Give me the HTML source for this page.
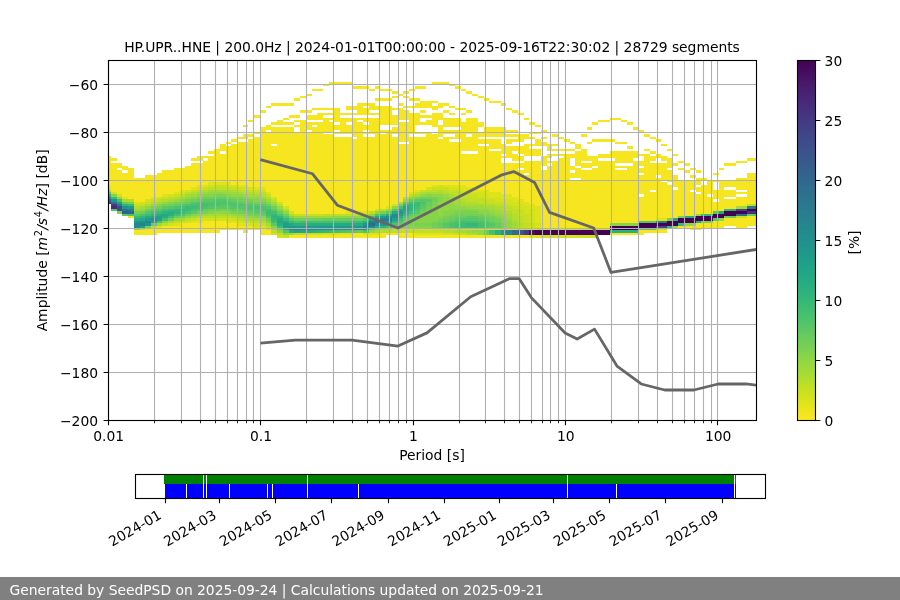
<!DOCTYPE html>
<html lang="en"><head><meta charset="utf-8"><title>PPSD HP.UPR..HNE</title><style>html,body{margin:0;padding:0;background:#fff;overflow:hidden}body{width:900px;height:600px}</style></head><body>
<svg width="900" height="600" viewBox="0 0 900 600" style="display:block;font-family:'DejaVu Sans','Liberation Sans',sans-serif;font-size:13.889px">
<defs><clipPath id="axc"><rect x="108" y="60" width="648" height="360"/></clipPath>
<linearGradient id="cbg" x1="0" y1="0" x2="0" y2="1"><stop offset="0.0000" stop-color="#440154"/><stop offset="0.0333" stop-color="#470d60"/><stop offset="0.0667" stop-color="#481a6c"/><stop offset="0.1000" stop-color="#482475"/><stop offset="0.1333" stop-color="#472f7d"/><stop offset="0.1667" stop-color="#443983"/><stop offset="0.2000" stop-color="#414487"/><stop offset="0.2333" stop-color="#3d4d8a"/><stop offset="0.2667" stop-color="#39568c"/><stop offset="0.3000" stop-color="#355f8d"/><stop offset="0.3333" stop-color="#31688e"/><stop offset="0.3667" stop-color="#2d708e"/><stop offset="0.4000" stop-color="#2a788e"/><stop offset="0.4333" stop-color="#27808e"/><stop offset="0.4667" stop-color="#23888e"/><stop offset="0.5000" stop-color="#21908d"/><stop offset="0.5333" stop-color="#1f988b"/><stop offset="0.5667" stop-color="#1fa188"/><stop offset="0.6000" stop-color="#22a884"/><stop offset="0.6333" stop-color="#2ab07f"/><stop offset="0.6667" stop-color="#35b779"/><stop offset="0.7000" stop-color="#44bf70"/><stop offset="0.7333" stop-color="#54c568"/><stop offset="0.7667" stop-color="#67cc5c"/><stop offset="0.8000" stop-color="#7ad151"/><stop offset="0.8333" stop-color="#90d743"/><stop offset="0.8667" stop-color="#a5db36"/><stop offset="0.9000" stop-color="#bddf26"/><stop offset="0.9333" stop-color="#d2e21b"/><stop offset="0.9667" stop-color="#eae51a"/><stop offset="1.0000" stop-color="#fde725"/></linearGradient></defs>
<rect x="0" y="0" width="900" height="600" fill="#fff"/>
<g clip-path="url(#axc)" shape-rendering="crispEdges"><path fill="#443983" d="M105 202H111V204H105ZM111 204H117V206H111ZM524 230H529V235H524Z"/><path fill="#375b8d" d="M105 199H111V202H105Z"/><path fill="#25848e" d="M105 197H111V199H105ZM380 221H386V223H380ZM506 230H512V233H506Z"/><path fill="#25ac82" d="M105 194H111V197H105ZM134 218H140V221H134ZM145 216H151V218H145ZM157 214H162V216H157ZM162 216H168V218H162ZM277 218H283V221H277ZM283 228H289V230H283ZM283 221H289V223H283ZM289 230H294V233H289ZM306 230H312V233H306ZM312 223H317V226H312ZM317 223H323V226H317ZM323 223H329V226H323ZM329 223H334V226H329ZM334 223H340V226H334ZM340 223H346V226H340ZM346 223H352V226H346ZM352 223H357V226H352ZM357 223H363V226H357ZM375 226H380V228H375ZM386 223H392V226H386ZM386 214H392V216H386ZM392 211H398V214H392Z"/><path fill="#5cc863" d="M105 192H111V194H105ZM122 214H128V216H122ZM134 214H140V216H134ZM151 209H157V211H151ZM162 206H168V209H162ZM191 211H197V214H191ZM203 199H208V202H203ZM208 199H214V202H208ZM214 206H220V209H214ZM220 206H226V209H220ZM226 206H231V209H226ZM226 199H231V202H226ZM237 202H243V204H237ZM243 209H248V211H243ZM254 211H260V214H254ZM254 204H260V206H254ZM260 211H266V214H260ZM260 204H266V206H260ZM271 223H277V226H271ZM271 209H277V211H271ZM289 218H294V221H289ZM352 230H357V233H352ZM369 228H375V230H369ZM386 211H392V214H386ZM403 202H409V204H403ZM409 214H415V216H409ZM415 211H420V214H415ZM415 199H420V202H415ZM420 206H426V209H420ZM426 199H432V202H426ZM443 226H449V228H443ZM455 218H461V221H455ZM466 216H472V218H466ZM472 216H478V218H472ZM478 218H484V221H478ZM489 226H495V228H489ZM753 214H759V216H753Z"/><path fill="#a5db36" d="M105 190H111V192H105ZM122 199H128V202H122ZM140 206H145V209H140ZM157 202H162V204H157ZM168 221H174V223H168ZM168 199H174V202H168ZM180 218H185V221H180ZM180 197H185V199H180ZM185 194H191V197H185ZM191 216H197V218H191ZM197 192H203V194H197ZM208 214H214V216H208ZM208 190H214V192H208ZM214 214H220V216H214ZM214 190H220V192H214ZM220 214H226V216H220ZM220 190H226V192H220ZM226 214H231V216H226ZM226 190H231V192H226ZM237 216H243V218H237ZM237 192H243V194H237ZM248 218H254V221H248ZM248 194H254V197H248ZM254 218H260V221H254ZM254 194H260V197H254ZM266 223H271V226H266ZM271 228H277V230H271ZM271 202H277V204H271ZM375 230H380V233H375ZM380 228H386V230H380ZM415 194H420V197H415ZM426 192H432V194H426ZM432 192H438V194H432ZM438 192H443V194H438ZM455 230H461V233H455ZM455 199H461V204H455ZM461 230H466V233H461ZM461 202H466V206H461ZM466 204H472V206H466ZM472 233H478V235H472ZM472 204H478V206H472ZM478 204H484V206H478ZM484 206H489V209H484ZM489 206H495V209H489ZM495 209H501V211H495ZM501 211H506V214H501ZM506 214H512V218H506ZM512 226H518V228H512ZM512 221H518V223H512ZM736 206H742V209H736Z"/><path fill="#dfe318" d="M105 187H111V190H105ZM122 197H128V199H122ZM134 202H140V204H134ZM151 197H157V199H151ZM157 226H162V228H157ZM162 194H168V197H162ZM174 223H180V226H174ZM174 192H180V194H174ZM180 190H185V192H180ZM191 221H197V223H191ZM191 187H197V190H191ZM197 221H203V223H197ZM197 185H203V187H197ZM203 185H208V187H203ZM208 182H214V185H208ZM214 182H220V185H214ZM220 182H226V185H220ZM226 221H231V223H226ZM226 182H231V185H226ZM231 221H237V223H231ZM237 223H243V226H237ZM237 185H243V187H237ZM243 223H248V226H243ZM243 185H248V187H243ZM254 226H260V228H254ZM254 187H260V190H254ZM260 226H266V228H260ZM260 187H266V190H260ZM266 192H271V194H266ZM334 233H340V235H334ZM340 233H346V235H340ZM346 233H352V235H346ZM346 211H352V214H346ZM352 211H357V214H352ZM357 211H363V214H357ZM363 233H369V235H363ZM363 211H369V214H363ZM369 233H375V235H369ZM375 233H380V235H375ZM386 206H392V209H386ZM409 192H415V194H409ZM415 233H420V235H415ZM415 190H420V192H415ZM420 233H426V235H420ZM426 233H432V235H426ZM432 233H438V235H432ZM432 185H438V187H432ZM438 233H443V235H438ZM443 185H449V187H443ZM449 185H455V187H449ZM455 185H461V187H455ZM461 185H466V190H461ZM466 187H472V190H466ZM472 187H478V192H472ZM478 190H484V192H478ZM484 190H489V194H484ZM489 192H495V197H489ZM495 192H501V197H495ZM501 194H506V199H501ZM506 194H512V199H506ZM512 197H518V202H512ZM518 199H524V204H518ZM524 202H529V206H524ZM529 235H535V238H529ZM529 204H535V209H529ZM535 235H541V238H535ZM535 226H541V228H535ZM535 206H541V223H535ZM656 218H661V221H656ZM661 218H667V221H661Z"/><path fill="#f6e620" d="M105 156H111V187H105ZM111 163H117V192H111ZM111 158H117V161H111ZM117 170H122V194H117ZM117 163H122V168H117ZM122 173H128V197H122ZM122 166H128V170H122ZM128 216H134V218H128ZM128 168H134V199H128ZM134 230H140V235H134ZM134 178H140V202H134ZM140 230H145V235H140ZM140 178H145V202H140ZM145 228H151V235H145ZM145 175H151V199H145ZM151 228H157V235H151ZM151 175H157V197H151ZM157 228H162V233H157ZM157 173H162V197H157ZM162 226H168V233H162ZM162 170H168V194H162ZM168 226H174V233H168ZM168 170H174V194H168ZM174 226H180V233H174ZM174 168H180V192H174ZM180 223H185V233H180ZM180 168H185V190H180ZM185 223H191V233H185ZM185 166H191V190H185ZM191 223H197V233H191ZM191 163H197V187H191ZM191 158H197V161H191ZM197 223H203V233H197ZM197 163H203V185H197ZM197 156H203V161H197ZM203 221H208V233H203ZM203 161H208V185H203ZM203 156H208V158H203ZM208 221H214V233H208ZM208 156H214V182H208ZM208 151H214V154H208ZM214 221H220V233H214ZM214 149H220V182H214ZM220 221H226V230H220ZM220 154H226V182H220ZM220 144H226V151H220ZM226 223H231V230H226ZM226 146H231V182H226ZM226 142H231V144H226ZM231 223H237V230H231ZM231 144H237V185H231ZM231 139H237V142H231ZM237 226H243V230H237ZM237 142H243V185H237ZM237 137H243V139H237ZM243 226H248V233H243ZM243 142H248V185H243ZM243 134H248V139H243ZM243 125H248V127H243ZM248 226H254V230H248ZM248 139H254V187H248ZM248 134H254V137H248ZM248 120H254V122H248ZM254 228H260V230H254ZM254 137H260V187H254ZM254 132H260V134H254ZM254 115H260V118H254ZM260 228H266V235H260ZM260 127H266V187H260ZM260 110H266V113H260ZM266 230H271V235H266ZM266 132H271V192H266ZM266 125H271V130H266ZM266 106H271V108H266ZM271 146H277V197H271ZM271 127H277V144H271ZM271 122H277V125H271ZM271 103H277V106H271ZM277 127H283V202H277ZM277 120H283V125H277ZM277 103H283V106H277ZM283 127H289V206H283ZM283 122H289V125H283ZM283 118H289V120H283ZM283 103H289V106H283ZM289 235H294V238H289ZM289 127H294V211H289ZM289 122H294V125H289ZM289 115H294V118H289ZM289 103H294V106H289ZM294 235H300V238H294ZM294 132H300V214H294ZM294 125H300V127H294ZM294 120H300V122H294ZM294 115H300V118H294ZM294 98H300V101H294ZM300 235H306V238H300ZM300 120H306V214H300ZM300 110H306V113H300ZM300 96H306V98H300ZM306 235H312V238H306ZM306 132H312V214H306ZM306 122H312V130H306ZM306 115H312V120H306ZM306 110H312V113H306ZM306 94H312V96H306ZM312 235H317V238H312ZM312 127H317V214H312ZM312 122H317V125H312ZM312 115H317V120H312ZM312 108H317V110H312ZM312 89H317V91H312ZM317 235H323V238H317ZM317 122H323V214H317ZM317 113H323V120H317ZM317 108H323V110H317ZM317 89H323V91H317ZM323 235H329V238H323ZM323 134H329V214H323ZM323 118H329V132H323ZM323 113H329V115H323ZM323 108H329V110H323ZM323 84H329V86H323ZM329 235H334V238H329ZM329 134H334V214H329ZM329 122H334V132H329ZM329 118H334V120H329ZM329 113H334V115H329ZM329 108H334V110H329ZM329 82H334V84H329ZM334 235H340V238H334ZM334 137H340V214H334ZM334 132H340V134H334ZM334 125H340V130H334ZM334 108H340V122H334ZM334 82H340V84H334ZM340 235H346V238H340ZM340 137H346V214H340ZM340 118H346V134H340ZM340 113H346V115H340ZM340 82H346V84H340ZM346 235H352V238H346ZM346 137H352V211H346ZM346 125H352V134H346ZM346 118H352V122H346ZM346 113H352V115H346ZM346 106H352V110H346ZM346 82H352V84H346ZM352 233H357V238H352ZM352 139H357V211H352ZM352 118H357V137H352ZM352 113H357V115H352ZM352 106H357V110H352ZM352 86H357V89H352ZM357 233H363V238H357ZM357 122H363V211H357ZM357 118H363V120H357ZM357 103H363V115H357ZM357 86H363V89H357ZM363 235H369V238H363ZM363 137H369V211H363ZM363 132H369V134H363ZM363 125H369V130H363ZM363 118H369V122H363ZM363 108H369V115H363ZM363 103H369V106H363ZM363 86H369V89H363ZM369 235H375V238H369ZM369 137H375V211H369ZM369 118H375V134H369ZM369 113H375V115H369ZM369 103H375V110H369ZM369 89H375V91H369ZM375 235H380V238H375ZM375 118H380V209H375ZM375 113H380V115H375ZM375 106H380V110H375ZM375 98H380V101H375ZM375 86H380V89H375ZM380 233H386V238H380ZM380 134H386V209H380ZM380 130H386V132H380ZM380 106H386V125H380ZM380 98H386V101H380ZM380 89H386V91H380ZM386 233H392V235H386ZM386 130H392V206H386ZM386 106H392V125H386ZM386 98H392V101H386ZM386 89H392V91H386ZM392 233H398V235H392ZM392 137H398V204H392ZM392 127H398V134H392ZM392 115H398V125H392ZM392 108H398V110H392ZM392 96H398V98H392ZM392 91H398V94H392ZM398 233H403V238H398ZM398 144H403V202H398ZM398 122H403V142H398ZM398 108H403V120H398ZM398 103H403V106H398ZM398 94H403V96H398ZM403 233H409V238H403ZM403 144H409V197H403ZM403 122H409V142H403ZM403 110H409V120H403ZM403 106H409V108H403ZM403 96H409V98H403ZM403 91H409V94H403ZM409 233H415V238H409ZM409 137H415V192H409ZM409 113H415V134H409ZM409 106H415V108H409ZM409 98H415V101H409ZM409 89H415V91H409ZM415 235H420V238H415ZM415 137H420V190H415ZM415 132H420V134H415ZM415 113H420V125H415ZM415 103H420V108H415ZM415 98H420V101H415ZM415 86H420V89H415ZM420 235H426V238H420ZM420 137H426V190H420ZM420 132H426V134H420ZM420 122H426V125H420ZM420 115H426V118H420ZM420 110H426V113H420ZM420 101H426V108H420ZM420 86H426V89H420ZM426 235H432V238H426ZM426 132H432V187H426ZM426 120H432V125H426ZM426 115H432V118H426ZM426 101H432V108H426ZM432 235H438V238H432ZM432 134H438V185H432ZM432 113H438V127H432ZM432 106H438V110H432ZM432 101H438V103H432ZM432 82H438V84H432ZM438 235H443V238H438ZM438 139H443V185H438ZM438 125H443V137H438ZM438 113H443V120H438ZM438 103H443V108H438ZM438 82H443V84H438ZM443 235H449V238H443ZM443 137H449V185H443ZM443 130H449V134H443ZM443 118H449V127H443ZM443 110H449V113H443ZM443 103H449V106H443ZM443 82H449V84H443ZM449 235H455V238H449ZM449 142H455V185H449ZM449 137H455V139H449ZM449 130H455V134H449ZM449 118H455V127H449ZM449 113H455V115H449ZM449 106H455V108H449ZM449 84H455V86H449ZM455 235H461V238H455ZM455 142H461V185H455ZM455 130H461V139H455ZM455 118H461V127H455ZM455 108H461V110H455ZM455 86H461V89H455ZM461 235H466V238H461ZM461 154H466V185H461ZM461 122H466V151H461ZM461 113H466V115H461ZM461 108H466V110H461ZM461 89H466V91H461ZM466 235H472V238H466ZM466 154H472V187H466ZM466 137H472V151H466ZM466 118H472V134H466ZM466 110H472V113H466ZM466 91H472V94H466ZM472 235H478V238H472ZM472 154H478V187H472ZM472 118H478V151H472ZM472 94H478V96H472ZM478 235H484V238H478ZM478 146H484V190H478ZM478 139H484V144H478ZM478 132H484V137H478ZM478 122H484V127H478ZM478 96H484V98H478ZM484 235H489V238H484ZM484 146H489V190H484ZM484 139H489V144H484ZM484 127H489V137H484ZM484 98H489V101H484ZM489 235H495V238H489ZM489 151H495V192H489ZM489 139H495V149H489ZM489 127H495V137H489ZM489 101H495V103H489ZM495 235H501V238H495ZM495 151H501V192H495ZM495 139H501V149H495ZM495 127H501V137H495ZM495 101H501V103H495ZM501 235H506V238H501ZM501 163H506V194H501ZM501 156H506V158H501ZM501 144H506V154H501ZM501 127H506V137H501ZM501 103H506V106H501ZM506 235H512V238H506ZM506 163H512V194H506ZM506 146H512V158H506ZM506 139H512V144H506ZM506 134H512V137H506ZM506 130H512V132H506ZM506 108H512V110H506ZM512 235H518V238H512ZM512 163H518V197H512ZM512 154H518V161H512ZM512 146H518V151H512ZM512 139H518V142H512ZM512 134H518V137H512ZM512 130H518V132H512ZM512 110H518V113H512ZM518 235H524V238H518ZM518 170H524V199H518ZM518 163H524V168H518ZM518 156H524V161H518ZM518 146H524V154H518ZM518 134H524V142H518ZM518 113H524V115H518ZM524 235H529V238H524ZM524 175H529V202H524ZM524 161H529V173H524ZM524 144H529V156H524ZM524 134H529V139H524ZM524 118H529V120H524ZM529 161H535V204H529ZM529 149H535V156H529ZM529 144H535V146H529ZM529 137H535V139H529ZM529 132H535V134H529ZM529 122H535V125H529ZM535 161H541V206H535ZM535 149H541V156H535ZM535 139H541V146H535ZM535 132H541V134H535ZM535 125H541V127H535ZM541 170H547V228H541ZM541 156H547V166H541ZM541 142H547V146H541ZM541 137H547V139H541ZM541 130H547V132H541ZM547 166H552V228H547ZM547 161H552V163H547ZM547 154H552V158H547ZM547 144H552V151H547ZM552 161H558V228H552ZM552 154H558V156H552ZM552 149H558V151H552ZM552 144H558V146H552ZM552 134H558V137H552ZM558 158H564V228H558ZM558 154H564V156H558ZM558 149H564V151H558ZM558 137H564V139H558ZM564 154H570V228H564ZM564 149H570V151H564ZM564 139H570V142H564ZM570 180H575V228H570ZM570 173H575V178H570ZM570 166H575V170H570ZM570 154H575V158H570ZM570 149H575V151H570ZM570 142H575V144H570ZM575 180H581V228H575ZM575 168H581V178H575ZM575 151H581V166H575ZM575 144H581V149H575ZM581 170H587V228H581ZM581 163H587V168H581ZM581 149H587V161H581ZM581 134H587V137H581ZM587 170H592V228H587ZM587 163H592V168H587ZM587 156H592V161H587ZM587 142H592V144H587ZM587 127H592V130H587ZM592 168H598V228H592ZM592 156H598V166H592ZM592 139H598V142H592ZM592 122H598V125H592ZM598 161H604V228H598ZM598 154H604V158H598ZM598 139H604V142H598ZM598 120H604V122H598ZM604 161H610V228H604ZM604 154H610V158H604ZM604 139H610V142H604ZM604 120H610V122H604ZM610 233H615V235H610ZM610 161H615V223H610ZM610 151H615V158H610ZM610 139H615V142H610ZM610 118H615V120H610ZM615 233H621V235H615ZM615 170H621V223H615ZM615 166H621V168H615ZM615 151H621V163H615ZM615 142H621V144H615ZM615 118H621V120H615ZM621 233H627V235H621ZM621 170H627V223H621ZM621 166H627V168H621ZM621 151H627V163H621ZM621 142H627V144H621ZM621 120H627V122H621ZM627 233H633V235H627ZM627 166H633V223H627ZM627 151H633V163H627ZM627 146H633V149H627ZM627 122H633V125H627ZM633 233H638V235H633ZM633 161H638V223H633ZM633 151H638V158H633ZM633 127H638V130H633ZM638 230H644V235H638ZM638 197H644V221H638ZM638 175H644V194H638ZM638 168H644V173H638ZM638 161H644V166H638ZM638 154H644V156H638ZM638 130H644V132H638ZM644 230H650V233H644ZM644 154H650V221H644ZM644 149H650V151H644ZM644 134H650V137H644ZM650 230H656V233H650ZM650 192H656V221H650ZM650 163H656V190H650ZM650 156H656V161H650ZM650 151H656V154H650ZM650 137H656V139H650ZM656 230H661V233H656ZM656 178H661V218H656ZM656 163H661V175H656ZM656 154H661V158H656ZM656 139H661V142H656ZM661 230H667V233H661ZM661 182H667V218H661ZM661 163H667V180H661ZM661 156H667V161H661ZM661 144H667V146H661ZM667 185H673V218H667ZM667 170H673V182H667ZM667 158H673V168H667ZM667 149H673V151H667ZM673 190H678V218H673ZM673 175H678V187H673ZM673 163H678V166H673ZM673 154H678V156H673ZM678 226H684V228H678ZM678 180H684V216H678ZM678 168H684V170H678ZM678 161H684V163H678ZM684 226H690V228H684ZM684 180H690V216H684ZM684 170H690V173H684ZM684 163H690V166H684ZM690 226H696V230H690ZM690 192H696V216H690ZM690 180H696V190H690ZM690 175H696V178H690ZM690 168H696V170H690ZM696 223H701V230H696ZM696 194H701V214H696ZM696 187H701V192H696ZM696 178H701V185H696ZM696 170H701V173H696ZM701 223H707V228H701ZM701 185H707V214H701ZM701 178H707V180H701ZM707 223H713V228H707ZM707 197H713V214H707ZM707 180H713V194H707ZM713 221H719V228H713ZM713 202H719V211H713ZM713 190H719V199H713ZM713 180H719V182H713ZM713 173H719V175H713ZM719 221H724V228H719ZM719 180H724V211H719ZM719 168H724V170H719ZM724 218H730V226H724ZM724 199H730V209H724ZM724 190H730V197H724ZM724 180H730V187H724ZM724 163H730V166H724ZM730 218H736V226H730ZM730 199H736V209H730ZM730 190H736V197H730ZM730 180H736V187H730ZM730 163H736V166H730ZM736 218H742V228H736ZM736 197H742V206H736ZM736 192H742V194H736ZM736 178H742V190H736ZM736 161H742V163H736ZM742 218H747V228H742ZM742 197H747V206H742ZM742 192H747V194H742ZM742 178H747V190H742ZM742 161H747V163H742ZM747 216H753V226H747ZM747 173H753V204H747ZM747 158H753V161H747ZM753 216H759V226H753ZM753 173H759V204H753ZM753 158H759V161H753Z"/><path fill="#54c568" d="M111 209H117V211H111ZM145 211H151V214H145ZM157 209H162V211H157ZM168 206H174V209H168ZM180 214H185V216H180ZM180 204H185V206H180ZM191 202H197V204H191ZM197 209H203V211H197ZM208 206H214V209H208ZM214 199H220V202H214ZM220 204H226V206H220ZM220 199H226V202H220ZM226 204H231V206H226ZM231 206H237V209H231ZM231 202H237V204H231ZM237 206H243V209H237ZM243 204H248V209H243ZM248 209H254V211H248ZM248 204H254V206H248ZM254 209H260V211H254ZM266 216H271V218H266ZM266 206H271V209H266ZM283 230H289V233H283ZM283 216H289V218H283ZM346 230H352V233H346ZM363 218H369V221H363ZM392 209H398V211H392ZM398 221H403V223H398ZM403 216H409V218H403ZM420 204H426V206H420ZM420 199H426V202H420ZM443 223H449V226H443ZM449 221H455V223H449ZM461 218H466V221H461ZM466 218H472V221H466ZM472 218H478V221H472ZM484 226H489V228H484ZM484 221H489V223H484ZM489 223H495V226H489ZM638 228H644V230H638ZM638 221H644V223H638ZM644 228H650V230H644ZM644 221H650V223H644ZM650 228H656V230H650ZM650 221H656V223H650ZM713 218H719V221H713ZM713 211H719V214H713Z"/><path fill="#482979" d="M111 206H117V209H111Z"/><path fill="#2d708e" d="M111 202H117V204H111ZM742 214H747V216H742Z"/><path fill="#1f988b" d="M111 199H117V202H111ZM134 221H140V223H134ZM289 226H294V228H289ZM317 226H323V228H317ZM323 226H329V228H323ZM329 226H334V228H329ZM334 226H340V228H334ZM340 226H346V228H340ZM346 226H352V228H346ZM352 226H357V228H352ZM357 226H363V228H357ZM380 223H386V226H380ZM398 211H403V214H398Z"/><path fill="#3bbb75" d="M111 197H117V199H111ZM128 204H134V206H128ZM134 216H140V218H134ZM145 214H151V216H145ZM157 211H162V214H157ZM168 209H174V211H168ZM180 211H185V214H180ZM185 206H191V211H185ZM191 206H197V209H191ZM266 211H271V214H266ZM277 226H283V228H277ZM283 218H289V221H283ZM289 221H294V223H289ZM329 230H334V233H329ZM352 221H357V223H352ZM357 221H363V223H357ZM380 214H386V216H380ZM398 218H403V221H398ZM403 214H409V216H403ZM415 202H420V206H415ZM461 223H466V228H461ZM466 226H472V228H466ZM472 226H478V228H472Z"/><path fill="#86d549" d="M111 194H117V197H111ZM117 211H122V214H117ZM134 228H140V230H134ZM157 204H162V206H157ZM162 221H168V223H162ZM168 202H174V204H168ZM180 199H185V202H180ZM191 214H197V216H191ZM191 197H197V199H191ZM203 194H208V197H203ZM208 211H214V214H208ZM208 194H214V197H208ZM226 211H231V214H226ZM226 194H231V197H226ZM243 214H248V216H243ZM243 197H248V199H243ZM254 216H260V218H254ZM254 199H260V202H254ZM260 216H266V218H260ZM260 199H266V202H260ZM266 221H271V223H266ZM266 202H271V204H266ZM271 226H277V228H271ZM277 209H283V211H277ZM289 216H294V218H289ZM369 214H375V216H369ZM409 226H415V228H409ZM409 221H415V223H409ZM415 226H420V228H415ZM415 218H420V223H415ZM420 226H426V228H420ZM420 216H426V223H420ZM426 226H432V228H426ZM426 211H432V223H426ZM426 194H432V197H426ZM432 206H438V221H432ZM438 216H443V218H438ZM438 197H443V202H438ZM443 211H449V216H443ZM449 209H455V214H449ZM455 209H461V211H455ZM461 209H466V211H461ZM466 209H472V211H466ZM472 209H478V211H472ZM478 211H484V214H478ZM484 211H489V214H484ZM489 214H495V216H489ZM495 216H501V218H495ZM501 218H506V223H501ZM610 223H615V226H610ZM615 223H621V226H615ZM621 223H627V226H621ZM627 223H633V226H627ZM633 223H638V226H633Z"/><path fill="#d2e21b" d="M111 192H117V194H111ZM117 194H122V197H117ZM140 202H145V204H140ZM145 199H151V202H145ZM157 197H162V199H157ZM168 223H174V226H168ZM168 194H174V197H168ZM180 192H185V194H180ZM185 221H191V223H185ZM185 190H191V192H185ZM197 218H203V221H197ZM197 187H203V190H197ZM203 218H208V221H203ZM208 218H214V221H208ZM208 185H214V187H208ZM214 218H220V221H214ZM220 218H226V221H220ZM226 218H231V221H226ZM226 185H231V187H226ZM231 185H237V187H231ZM237 221H243V223H237ZM243 187H248V190H243ZM248 223H254V226H248ZM248 187H254V190H248ZM254 223H260V226H254ZM260 190H266V192H260ZM266 228H271V230H266ZM271 233H277V235H271ZM271 197H277V199H271ZM277 235H283V238H277ZM277 202H283V204H277ZM283 206H289V209H283ZM289 211H294V214H289ZM323 233H329V235H323ZM329 233H334V235H329ZM375 209H380V211H375ZM392 204H398V206H392ZM420 228H426V230H420ZM426 228H432V230H426ZM426 187H432V190H426ZM438 185H443V187H438ZM443 233H449V235H443ZM449 233H455V235H449ZM449 187H455V190H449ZM455 187H461V190H455ZM461 190H466V192H461ZM466 190H472V194H466ZM472 192H478V194H472ZM478 228H484V230H478ZM478 192H484V197H478ZM484 228H489V230H484ZM484 194H489V199H484ZM489 197H495V199H489ZM495 197H501V202H495ZM501 199H506V202H501ZM506 228H512V230H506ZM506 199H512V204H506ZM512 228H518V230H512ZM512 202H518V206H512ZM518 228H524V230H518ZM518 204H524V209H518ZM524 228H529V230H524ZM524 206H529V214H524ZM529 226H535V230H529ZM529 209H535V223H529ZM535 228H541V230H535ZM535 223H541V226H535ZM541 235H547V238H541ZM541 228H547V230H541ZM547 235H552V238H547ZM547 228H552V230H547ZM552 235H558V238H552ZM552 228H558V230H552ZM558 235H564V238H558ZM558 228H564V230H558ZM564 235H570V238H564ZM564 228H570V230H564ZM570 235H575V238H570ZM570 228H575V230H570ZM575 235H581V238H575ZM575 228H581V230H575ZM581 235H587V238H581ZM581 228H587V230H581ZM587 235H592V238H587ZM587 228H592V230H587ZM592 235H598V238H592ZM592 228H598V230H592ZM598 228H604V230H598ZM604 228H610V230H604Z"/><path fill="#3d4d8a" d="M117 206H122V211H117Z"/><path fill="#2a788e" d="M117 204H122V206H117ZM375 221H380V223H375ZM753 206H759V209H753Z"/><path fill="#1fa188" d="M117 202H122V204H117ZM140 226H145V228H140ZM151 221H157V223H151ZM157 216H162V218H157ZM283 223H289V226H283ZM392 218H398V221H392ZM398 214H403V216H398Z"/><path fill="#44bf70" d="M117 199H122V202H117ZM151 211H157V214H151ZM162 218H168V221H162ZM162 209H168V211H162ZM168 216H174V218H168ZM174 214H180V216H174ZM180 206H185V209H180ZM191 204H197V206H191ZM197 204H203V209H197ZM203 204H208V206H203ZM266 214H271V216H266ZM266 209H271V211H266ZM271 221H277V223H271ZM271 211H277V214H271ZM300 221H306V223H300ZM306 221H312V223H306ZM312 221H317V223H312ZM317 221H323V223H317ZM323 221H329V223H323ZM329 221H334V223H329ZM334 230H340V233H334ZM334 221H340V223H334ZM340 221H346V223H340ZM346 221H352V223H346ZM386 226H392V228H386ZM398 206H403V209H398ZM409 211H415V214H409ZM409 202H415V204H409ZM415 206H420V209H415ZM455 223H461V228H455ZM461 221H466V223H461ZM466 221H472V223H466ZM472 221H478V223H472ZM478 223H484V228H478ZM489 230H495V233H489Z"/><path fill="#90d743" d="M117 197H122V199H117ZM140 209H145V211H140ZM145 206H151V209H145ZM162 202H168V204H162ZM185 216H191V218H185ZM185 197H191V199H185ZM197 214H203V216H197ZM197 194H203V197H197ZM208 192H214V194H208ZM214 211H220V214H214ZM214 192H220V194H214ZM220 211H226V214H220ZM220 192H226V194H220ZM231 194H237V197H231ZM237 214H243V216H237ZM237 194H243V197H237ZM248 216H254V218H248ZM248 197H254V199H248ZM254 197H260V199H254ZM271 204H277V206H271ZM277 230H283V233H277ZM283 233H289V235H283ZM283 211H289V214H283ZM334 216H340V218H334ZM340 216H346V218H340ZM346 216H352V218H346ZM352 216H357V218H352ZM357 216H363V218H357ZM363 216H369V218H363ZM369 230H375V233H369ZM375 228H380V230H375ZM375 211H380V214H375ZM392 206H398V209H392ZM403 199H409V202H403ZM409 197H415V199H409ZM420 194H426V197H420ZM432 194H438V197H432ZM438 202H443V216H438ZM438 194H443V197H438ZM443 197H449V211H443ZM449 204H455V209H449ZM455 206H461V209H455ZM461 206H466V209H461ZM472 230H478V233H472ZM478 230H484V235H478ZM478 209H484V211H478ZM484 209H489V211H484ZM489 211H495V214H489ZM495 214H501V216H495ZM501 216H506V218H501ZM506 221H512V228H506ZM673 226H678V228H673ZM684 223H690V226H684ZM690 223H696V226H690ZM696 214H701V216H696ZM719 218H724V221H719Z"/><path fill="#355f8d" d="M122 211H128V214H122Z"/><path fill="#2b748e" d="M122 209H128V211H122ZM736 214H742V216H736Z"/><path fill="#1f948c" d="M122 206H128V209H122ZM140 221H145V223H140ZM145 223H151V226H145ZM151 218H157V221H151ZM363 223H369V226H363ZM386 221H392V223H386Z"/><path fill="#2fb47c" d="M122 204H128V206H122ZM151 214H157V216H151ZM162 211H168V214H162ZM174 211H180V214H174ZM271 216H277V218H271ZM317 230H323V233H317ZM380 226H386V228H380ZM392 221H398V223H392ZM409 204H415V209H409Z"/><path fill="#67cc5c" d="M122 202H128V204H122ZM151 223H157V226H151ZM174 216H180V218H174ZM174 204H180V206H174ZM185 202H191V204H185ZM197 199H203V202H197ZM203 209H208V211H203ZM214 197H220V199H214ZM220 197H226V199H220ZM231 209H237V211H231ZM231 199H237V202H231ZM237 209H243V211H237ZM243 202H248V204H243ZM248 211H254V214H248ZM248 202H254V204H248ZM260 214H266V216H260ZM277 228H283V230H277ZM277 211H283V214H277ZM323 218H329V221H323ZM329 218H334V221H329ZM334 218H340V221H334ZM340 218H346V221H340ZM346 218H352V221H346ZM352 218H357V221H352ZM357 230H363V233H357ZM357 218H363V221H357ZM392 226H398V228H392ZM398 223H403V226H398ZM403 218H409V221H403ZM409 199H415V202H409ZM420 209H426V211H420ZM426 202H432V206H426ZM438 223H443V228H438ZM443 221H449V223H443ZM449 218H455V221H449ZM455 216H461V218H455ZM461 216H466V218H461ZM478 216H484V218H478ZM484 230H489V235H484ZM484 218H489V221H484ZM489 221H495V223H489ZM495 223H501V228H495ZM730 216H736V218H730ZM747 214H753V216H747Z"/><path fill="#4cc26c" d="M128 214H134V216H128ZM140 214H145V216H140ZM157 221H162V223H157ZM174 206H180V209H174ZM185 211H191V214H185ZM185 204H191V206H185ZM191 209H197V211H191ZM197 202H203V204H197ZM203 206H208V209H203ZM203 202H208V204H203ZM208 202H214V206H208ZM214 202H220V206H214ZM220 202H226V204H220ZM226 202H231V204H226ZM231 204H237V206H231ZM237 204H243V206H237ZM248 206H254V209H248ZM254 206H260V209H254ZM260 206H266V211H260ZM277 214H283V216H277ZM294 221H300V223H294ZM340 230H346V233H340ZM363 230H369V233H363ZM369 216H375V218H369ZM375 214H380V216H375ZM392 223H398V226H392ZM415 209H420V211H415ZM420 202H426V204H420ZM449 223H455V228H449ZM455 221H461V223H455ZM478 221H484V223H478ZM484 223H489V226H484ZM489 233H495V235H489Z"/><path fill="#32648e" d="M128 211H134V214H128Z"/><path fill="#287c8e" d="M128 209H134V211H128ZM369 221H375V223H369ZM380 218H386V221H380ZM656 221H661V223H656ZM661 221H667V223H661ZM747 206H753V209H747Z"/><path fill="#1e9c89" d="M128 206H134V209H128ZM145 218H151V221H145ZM283 226H289V228H283ZM294 226H300V228H294ZM300 226H306V228H300ZM306 226H312V228H306ZM312 226H317V228H312ZM380 216H386V218H380ZM501 230H506V235H501Z"/><path fill="#7ad151" d="M128 202H134V204H128ZM134 211H140V214H134ZM145 226H151V228H145ZM151 206H157V209H151ZM162 204H168V206H162ZM174 202H180V204H174ZM180 216H185V218H180ZM185 199H191V202H185ZM197 197H203V199H197ZM203 211H208V214H203ZM214 194H220V197H214ZM220 209H226V211H220ZM220 194H226V197H220ZM231 211H237V214H231ZM231 197H237V199H231ZM237 197H243V199H237ZM248 214H254V216H248ZM248 199H254V202H248ZM380 211H386V214H380ZM398 204H403V206H398ZM403 223H409V228H403ZM409 223H415V226H409ZM409 218H415V221H409ZM415 223H420V226H415ZM415 216H420V218H415ZM415 197H420V199H415ZM420 223H426V226H420ZM420 214H426V216H420ZM426 223H432V226H426ZM426 209H432V211H426ZM432 221H438V223H432ZM432 202H438V206H432ZM432 197H438V199H432ZM438 218H443V221H438ZM443 216H449V218H443ZM449 214H455V216H449ZM455 211H461V214H455ZM461 211H466V214H461ZM466 211H472V214H466ZM472 211H478V214H472ZM484 214H489V216H484ZM489 216H495V218H489ZM495 218H501V221H495ZM501 223H506V228H501ZM667 218H673V221H667ZM678 216H684V218H678ZM701 221H707V223H701ZM707 221H713V223H707Z"/><path fill="#b2dd2d" d="M128 199H134V202H128ZM134 206H140V209H134ZM145 204H151V206H145ZM151 202H157V204H151ZM162 199H168V202H162ZM174 197H180V199H174ZM191 192H197V194H191ZM197 216H203V218H197ZM203 190H208V192H203ZM231 216H237V218H231ZM231 190H237V192H231ZM243 218H248V221H243ZM243 192H248V194H243ZM248 192H254V194H248ZM260 221H266V223H260ZM260 194H266V197H260ZM266 197H271V199H266ZM283 209H289V211H283ZM289 214H294V216H289ZM380 230H386V233H380ZM386 228H392V233H386ZM398 202H403V204H398ZM420 192H426V194H420ZM438 190H443V192H438ZM443 230H449V233H443ZM443 192H449V194H443ZM449 230H455V233H449ZM449 194H455V197H449ZM455 197H461V199H455ZM461 199H466V202H461ZM466 233H472V235H466ZM466 202H472V204H466ZM472 202H478V204H472ZM484 204H489V206H484ZM489 204H495V206H489ZM495 206H501V209H495ZM501 206H506V211H501ZM506 211H512V214H506ZM512 214H518V221H512ZM518 223H524V226H518ZM753 204H759V206H753Z"/><path fill="#23888e" d="M134 223H140V228H134ZM145 221H151V223H145ZM289 228H294V230H289ZM294 228H300V230H294ZM300 228H306V230H300ZM306 228H312V230H306ZM312 228H317V230H312ZM317 228H323V230H317ZM323 228H329V230H323ZM329 228H334V230H329ZM363 228H369V230H363ZM506 233H512V235H506Z"/><path fill="#9bd93c" d="M134 209H140V211H134ZM151 204H157V206H151ZM157 223H162V226H157ZM174 218H180V221H174ZM174 199H180V202H174ZM191 194H197V197H191ZM203 214H208V216H203ZM203 192H208V194H203ZM226 192H231V194H226ZM231 214H237V216H231ZM231 192H237V194H231ZM243 216H248V218H243ZM243 194H248V197H243ZM260 218H266V221H260ZM260 197H266V199H260ZM266 199H271V202H266ZM277 206H283V209H277ZM289 233H294V235H289ZM294 216H300V218H294ZM300 216H306V218H300ZM306 216H312V218H306ZM312 216H317V218H312ZM317 216H323V218H317ZM323 216H329V218H323ZM329 216H334V218H329ZM386 209H392V211H386ZM443 194H449V197H443ZM449 197H455V204H449ZM455 204H461V206H455ZM466 230H472V233H466ZM466 206H472V209H466ZM472 206H478V209H472ZM478 206H484V209H478ZM489 209H495V211H489ZM495 211H501V214H495ZM501 214H506V216H501ZM506 218H512V221H506ZM512 223H518V226H512ZM742 206H747V209H742Z"/><path fill="#c8e020" d="M134 204H140V206H134ZM140 204H145V206H140ZM145 202H151V204H145ZM151 226H157V228H151ZM151 199H157V202H151ZM162 197H168V199H162ZM174 194H180V197H174ZM180 221H185V223H180ZM191 218H197V221H191ZM191 190H197V192H191ZM203 187H208V190H203ZM214 185H220V187H214ZM220 185H226V187H220ZM231 218H237V221H231ZM231 187H237V190H231ZM237 187H243V190H237ZM243 221H248V223H243ZM248 190H254V192H248ZM254 190H260V192H254ZM260 223H266V226H260ZM266 194H271V197H266ZM283 235H289V238H283ZM294 214H300V216H294ZM300 214H306V216H300ZM306 233H312V235H306ZM306 214H312V216H306ZM312 233H317V235H312ZM312 214H317V216H312ZM317 233H323V235H317ZM317 214H323V216H317ZM398 228H403V230H398ZM403 228H409V230H403ZM409 228H415V230H409ZM415 228H420V230H415ZM415 192H420V194H415ZM420 190H426V192H420ZM432 228H438V230H432ZM432 187H438V190H432ZM438 228H443V230H438ZM438 187H443V190H438ZM443 228H449V230H443ZM443 187H449V190H443ZM449 228H455V230H449ZM449 190H455V192H449ZM455 233H461V235H455ZM455 228H461V230H455ZM455 190H461V192H455ZM461 233H466V235H461ZM461 228H466V230H461ZM461 192H466V194H461ZM466 228H472V230H466ZM466 194H472V197H466ZM472 228H478V230H472ZM472 194H478V199H472ZM478 197H484V199H478ZM484 199H489V202H484ZM489 228H495V230H489ZM489 199H495V204H489ZM495 228H501V230H495ZM495 202H501V204H495ZM501 228H506V230H501ZM501 202H506V204H501ZM506 204H512V206H506ZM512 206H518V209H512ZM518 209H524V216H518ZM524 226H529V228H524ZM524 214H529V223H524ZM529 223H535V226H529ZM656 228H661V230H656ZM661 228H667V230H661ZM736 216H742V218H736ZM742 216H747V218H742Z"/><path fill="#bddf26" d="M140 228H145V230H140ZM157 199H162V202H157ZM162 223H168V226H162ZM168 197H174V199H168ZM174 221H180V223H174ZM180 194H185V197H180ZM185 218H191V221H185ZM185 192H191V194H185ZM197 190H203V192H197ZM203 216H208V218H203ZM208 216H214V218H208ZM208 187H214V190H208ZM214 216H220V218H214ZM214 187H220V190H214ZM220 216H226V218H220ZM220 187H226V190H220ZM226 216H231V218H226ZM226 187H231V190H226ZM237 218H243V221H237ZM237 190H243V192H237ZM243 190H248V192H243ZM248 221H254V223H248ZM254 221H260V223H254ZM254 192H260V194H254ZM260 192H266V194H260ZM266 226H271V228H266ZM271 230H277V233H271ZM271 199H277V202H271ZM277 233H283V235H277ZM277 204H283V206H277ZM294 233H300V235H294ZM300 233H306V235H300ZM323 214H329V216H323ZM329 214H334V216H329ZM334 214H340V216H334ZM340 214H346V216H340ZM346 214H352V216H346ZM352 214H357V216H352ZM357 214H363V216H357ZM363 214H369V216H363ZM369 211H375V214H369ZM380 209H386V211H380ZM392 228H398V233H392ZM398 230H403V233H398ZM403 230H409V233H403ZM403 197H409V199H403ZM409 230H415V233H409ZM409 194H415V197H409ZM415 230H420V233H415ZM420 230H426V233H420ZM426 230H432V233H426ZM426 190H432V192H426ZM432 230H438V233H432ZM432 190H438V192H432ZM438 230H443V233H438ZM443 190H449V192H443ZM449 192H455V194H449ZM455 192H461V197H455ZM461 194H466V199H461ZM466 197H472V202H466ZM472 199H478V202H472ZM478 199H484V204H478ZM484 202H489V204H484ZM495 204H501V206H495ZM501 204H506V206H501ZM506 206H512V211H506ZM512 209H518V214H512ZM518 226H524V228H518ZM518 216H524V223H518ZM524 223H529V226H524ZM747 204H753V206H747Z"/><path fill="#27808e" d="M140 223H145V226H140ZM363 226H369V228H363ZM375 218H380V221H375ZM386 218H392V221H386Z"/><path fill="#22a884" d="M140 218H145V221H140ZM162 214H168V216H162ZM277 221H283V223H277ZM289 223H294V226H289ZM300 230H306V233H300ZM375 216H380V218H375ZM398 209H403V211H398ZM403 206H409V211H403ZM673 218H678V221H673ZM684 216H690V218H684ZM690 216H696V218H690ZM696 221H701V223H696ZM719 211H724V214H719Z"/><path fill="#35b779" d="M140 216H145V218H140ZM174 209H180V211H174ZM180 209H185V211H180ZM271 218H277V221H271ZM271 214H277V216H271ZM277 216H283V218H277ZM323 230H329V233H323ZM403 204H409V206H403ZM409 209H415V211H409ZM466 223H472V226H466ZM472 223H478V226H472ZM667 226H673V228H667ZM678 223H684V226H678ZM701 214H707V216H701ZM707 214H713V216H707ZM724 209H730V211H724Z"/><path fill="#70cf57" d="M140 211H145V214H140ZM145 209H151V211H145ZM157 206H162V209H157ZM168 218H174V221H168ZM168 204H174V206H168ZM180 202H185V204H180ZM185 214H191V216H185ZM191 199H197V202H191ZM197 211H203V214H197ZM203 197H208V199H203ZM208 209H214V211H208ZM208 197H214V199H208ZM214 209H220V211H214ZM226 209H231V211H226ZM226 197H231V199H226ZM237 211H243V214H237ZM237 199H243V202H237ZM243 211H248V214H243ZM243 199H248V202H243ZM254 214H260V216H254ZM254 202H260V204H254ZM260 202H266V204H260ZM266 218H271V221H266ZM266 204H271V206H266ZM271 206H277V209H271ZM283 214H289V216H283ZM294 218H300V221H294ZM300 218H306V221H300ZM306 218H312V221H306ZM312 218H317V221H312ZM317 218H323V221H317ZM398 226H403V228H398ZM403 221H409V223H403ZM409 216H415V218H409ZM415 214H420V216H415ZM420 211H426V214H420ZM420 197H426V199H420ZM426 206H432V209H426ZM426 197H432V199H426ZM432 223H438V228H432ZM432 199H438V202H432ZM438 221H443V223H438ZM443 218H449V221H443ZM449 216H455V218H449ZM455 214H461V216H455ZM461 214H466V216H461ZM466 214H472V216H466ZM472 214H478V216H472ZM478 214H484V216H478ZM484 216H489V218H484ZM489 218H495V221H489ZM495 221H501V223H495ZM724 216H730V218H724Z"/><path fill="#20a486" d="M151 216H157V218H151ZM157 218H162V221H157ZM294 230H300V233H294ZM369 218H375V221H369Z"/><path fill="#2ab07f" d="M168 211H174V216H168ZM277 223H283V226H277ZM294 223H300V226H294ZM300 223H306V226H300ZM306 223H312V226H306ZM312 230H317V233H312ZM363 221H369V223H363ZM398 216H403V218H398ZM403 211H409V214H403ZM495 230H501V235H495ZM610 230H615V233H610ZM615 230H621V233H615ZM621 230H627V233H621ZM627 230H633V233H627ZM633 230H638V233H633ZM730 209H736V211H730Z"/><path fill="#228c8d" d="M334 228H340V230H334ZM340 228H346V230H340ZM346 228H352V230H346ZM352 228H357V230H352ZM369 226H375V228H369ZM375 223H380V226H375ZM386 216H392V218H386Z"/><path fill="#21908d" d="M357 228H363V230H357ZM392 214H398V218H392Z"/><path fill="#2f6c8e" d="M369 223H375V226H369ZM512 230H518V235H512Z"/><path fill="#39568c" d="M518 230H524V235H518Z"/><path fill="#470d60" d="M529 230H535V235H529Z"/><path fill="#440154" d="M535 230H541V235H535ZM541 230H547V235H541ZM547 230H552V235H547ZM552 230H558V235H552ZM558 230H564V235H558ZM564 230H570V235H564ZM570 230H575V235H570ZM575 230H581V235H575ZM581 230H587V235H581ZM587 230H592V235H587ZM592 230H598V235H592ZM598 230H604V235H598ZM604 230H610V235H604ZM610 226H615V230H610ZM615 226H621V230H615ZM621 226H627V230H621ZM627 226H633V230H627ZM633 226H638V230H633ZM638 223H644V228H638ZM644 223H650V228H644ZM650 223H656V228H650ZM656 223H661V226H656ZM661 223H667V226H661ZM667 221H673V226H667ZM673 221H678V226H673ZM678 218H684V223H678ZM684 218H690V223H684ZM690 218H696V223H690ZM696 216H701V221H696ZM701 216H707V221H701ZM707 216H713V221H707ZM713 214H719V218H713ZM719 214H724V218H719ZM724 211H730V216H724ZM730 211H736V216H730ZM736 211H742V214H736ZM742 211H747V214H742ZM747 209H753V211H747ZM753 209H759V211H753Z"/><path fill="#414487" d="M656 226H661V228H656ZM661 226H667V228H661ZM736 209H742V211H736ZM742 209H747V211H742Z"/><path fill="#472f7d" d="M747 211H753V214H747Z"/><path fill="#463480" d="M753 211H759V214H753Z"/></g>
<path d="M108.5 60V420M154.5 60V420M181.5 60V420M200.5 60V420M215.5 60V420M227.5 60V420M237.5 60V420M246.5 60V420M253.5 60V420M260.5 60V420M306.5 60V420M333.5 60V420M352.5 60V420M367.5 60V420M379.5 60V420M389.5 60V420M398.5 60V420M406.5 60V420M413.5 60V420M459.5 60V420M485.5 60V420M504.5 60V420M519.5 60V420M531.5 60V420M542.5 60V420M550.5 60V420M558.5 60V420M565.5 60V420M611.5 60V420M638.5 60V420M657.5 60V420M672.5 60V420M684.5 60V420M694.5 60V420M703.5 60V420M711.5 60V420M717.5 60V420M108 420.5H756M108 372.5H756M108 324.5H756M108 276.5H756M108 228.5H756M108 180.5H756M108 132.5H756M108 84.5H756" stroke="#b0b0b0" stroke-width="1.11" fill="none"/>
<path d="M260.37 159.60 L312.54 173.77 L337.34 205.20 L397.97 228.00 L501.08 175.19 L513.72 171.59 L534.53 182.40 L549.51 212.39 L593.68 228.01 L610.97 272.39 L801.27 242.39" stroke="#666666" stroke-width="2.78" fill="none" stroke-linejoin="round" stroke-linecap="butt" clip-path="url(#axc)"/>
<path d="M260.37 343.20 L295.48 340.08 L352.10 340.07 L397.97 346.08 L426.97 332.87 L470.67 296.75 L509.26 278.64 L519.24 278.63 L531.30 297.60 L565.10 333.00 L577.17 338.99 L594.53 329.11 L616.98 366.01 L641.24 383.99 L664.63 390.00 L693.87 390.00 L718.13 384.00 L746.05 383.97 L796.08 389.97" stroke="#666666" stroke-width="2.78" fill="none" stroke-linejoin="round" stroke-linecap="butt" clip-path="url(#axc)"/>
<path d="M108.5 420.5v4.86M260.5 420.5v4.86M413.5 420.5v4.86M565.5 420.5v4.86M717.5 420.5v4.86M108.5 420.5h-4.86M108.5 372.5h-4.86M108.5 324.5h-4.86M108.5 276.5h-4.86M108.5 228.5h-4.86M108.5 180.5h-4.86M108.5 132.5h-4.86M108.5 84.5h-4.86M815.5 420.5h4.86M815.5 360.5h4.86M815.5 300.5h4.86M815.5 240.5h4.86M815.5 180.5h4.86M815.5 120.5h4.86M815.5 60.5h4.86M165.5 498.5v4.86M219.5 498.5v4.86M275.5 498.5v4.86M331.5 498.5v4.86M388.5 498.5v4.86M444.5 498.5v4.86M499.5 498.5v4.86M553.5 498.5v4.86M609.5 498.5v4.86M665.5 498.5v4.86M722.5 498.5v4.86" stroke="#000" stroke-width="1.11" fill="none"/>
<path d="M154.5 420.5v2.78M181.5 420.5v2.78M200.5 420.5v2.78M215.5 420.5v2.78M227.5 420.5v2.78M237.5 420.5v2.78M246.5 420.5v2.78M253.5 420.5v2.78M306.5 420.5v2.78M333.5 420.5v2.78M352.5 420.5v2.78M367.5 420.5v2.78M379.5 420.5v2.78M389.5 420.5v2.78M398.5 420.5v2.78M406.5 420.5v2.78M459.5 420.5v2.78M485.5 420.5v2.78M504.5 420.5v2.78M519.5 420.5v2.78M531.5 420.5v2.78M542.5 420.5v2.78M550.5 420.5v2.78M558.5 420.5v2.78M611.5 420.5v2.78M638.5 420.5v2.78M657.5 420.5v2.78M672.5 420.5v2.78M684.5 420.5v2.78M694.5 420.5v2.78M703.5 420.5v2.78M711.5 420.5v2.78" stroke="#000" stroke-width="0.83" fill="none"/>
<rect x="108.5" y="60.5" width="648" height="360" fill="none" stroke="#000" stroke-width="1.11"/>
<rect x="797.5" y="60.5" width="18" height="360" fill="url(#cbg)" stroke="#000" stroke-width="1.11"/>
<g shape-rendering="crispEdges">
<rect x="164" y="475" width="572" height="9" fill="#008000"/>
<rect x="165" y="484" width="571" height="14" fill="#0000ff"/>
<rect x="186" y="484" width="1" height="14" fill="#fff"/>
<rect x="203" y="484" width="1" height="14" fill="#fff"/>
<rect x="206" y="484" width="1" height="14" fill="#fff"/>
<rect x="229" y="484" width="1" height="14" fill="#fff"/>
<rect x="267" y="484" width="1" height="14" fill="#fff"/>
<rect x="272" y="484" width="1" height="14" fill="#fff"/>
<rect x="307" y="484" width="1" height="14" fill="#fff"/>
<rect x="358" y="484" width="1" height="14" fill="#fff"/>
<rect x="567" y="484" width="1" height="14" fill="#fff"/>
<rect x="616" y="484" width="1" height="14" fill="#fff"/>
<rect x="734" y="484" width="1" height="14" fill="#fff"/>
<rect x="203" y="475" width="1" height="9" fill="#fff"/>
<rect x="206" y="475" width="1" height="9" fill="#fff"/>
<rect x="307" y="475" width="1" height="9" fill="#fff"/>
<rect x="567" y="475" width="1" height="9" fill="#fff"/>
<rect x="734" y="475" width="1" height="9" fill="#fff"/>
</g>
<rect x="135.5" y="474.5" width="630" height="24" fill="none" stroke="#000" stroke-width="1.11"/>
<text x="432.00" y="51.60" text-anchor="middle" textLength="615.6" lengthAdjust="spacing">HP.UPR..HNE | 200.0Hz | 2024-01-01T00:00:00 - 2025-09-16T22:30:02 | 28729 segments</text>
<text x="432.00" y="459.70" text-anchor="middle" >Period [s]</text>
<text x="108.70" y="441.00" text-anchor="middle" >0.01</text>
<text x="261.07" y="441.00" text-anchor="middle" >0.1</text>
<text x="413.44" y="441.00" text-anchor="middle" >1</text>
<text x="565.80" y="441.00" text-anchor="middle" >10</text>
<text x="718.17" y="441.00" text-anchor="middle" >100</text>
<text x="98.10" y="426.00" text-anchor="end" >−200</text>
<text x="98.10" y="378.00" text-anchor="end" >−180</text>
<text x="98.10" y="330.00" text-anchor="end" >−160</text>
<text x="98.10" y="282.00" text-anchor="end" >−140</text>
<text x="98.10" y="234.00" text-anchor="end" >−120</text>
<text x="98.10" y="186.00" text-anchor="end" >−100</text>
<text x="98.10" y="138.00" text-anchor="end" >−80</text>
<text x="98.10" y="90.00" text-anchor="end" >−60</text>
<text x="824.60" y="426.00" text-anchor="start" >0</text>
<text x="824.60" y="366.00" text-anchor="start" >5</text>
<text x="824.60" y="306.00" text-anchor="start" >10</text>
<text x="824.60" y="246.00" text-anchor="start" >15</text>
<text x="824.60" y="186.00" text-anchor="start" >20</text>
<text x="824.60" y="126.00" text-anchor="start" >25</text>
<text x="824.60" y="66.00" text-anchor="start" >30</text>
<text transform="translate(46.8 240.4) rotate(-90)" text-anchor="middle" x="0" y="0">Amplitude [<tspan font-style="italic">m</tspan><tspan font-size="9.72px" dy="-5.0" dx="0.6">2</tspan><tspan dy="5.0" dx="0.3" font-style="italic">/s</tspan><tspan font-size="9.72px" dy="-5.0" dx="0.6">4</tspan><tspan dy="5.0" dx="0.3" font-style="italic">/Hz</tspan>] [dB]</text>
<text transform="translate(859 242.5) rotate(-90)" text-anchor="middle" x="0" y="0">[%]</text>
<text transform="translate(158.00 510) rotate(-30)" text-anchor="end" x="0" y="9">2024-01</text>
<text transform="translate(212.89 510) rotate(-30)" text-anchor="end" x="0" y="9">2024-03</text>
<text transform="translate(268.70 510) rotate(-30)" text-anchor="end" x="0" y="9">2024-05</text>
<text transform="translate(324.50 510) rotate(-30)" text-anchor="end" x="0" y="9">2024-07</text>
<text transform="translate(381.22 510) rotate(-30)" text-anchor="end" x="0" y="9">2024-09</text>
<text transform="translate(437.03 510) rotate(-30)" text-anchor="end" x="0" y="9">2024-11</text>
<text transform="translate(492.84 510) rotate(-30)" text-anchor="end" x="0" y="9">2025-01</text>
<text transform="translate(546.81 510) rotate(-30)" text-anchor="end" x="0" y="9">2025-03</text>
<text transform="translate(602.62 510) rotate(-30)" text-anchor="end" x="0" y="9">2025-05</text>
<text transform="translate(658.42 510) rotate(-30)" text-anchor="end" x="0" y="9">2025-07</text>
<text transform="translate(715.14 510) rotate(-30)" text-anchor="end" x="0" y="9">2025-09</text>
<rect x="0" y="577" width="900" height="23" fill="#808080"/>
<text x="9.50" y="594.80" text-anchor="start" fill="#fff" textLength="534.0" lengthAdjust="spacing">Generated by SeedPSD on 2025-09-24 | Calculations updated on 2025-09-21</text>
</svg>
</body></html>
